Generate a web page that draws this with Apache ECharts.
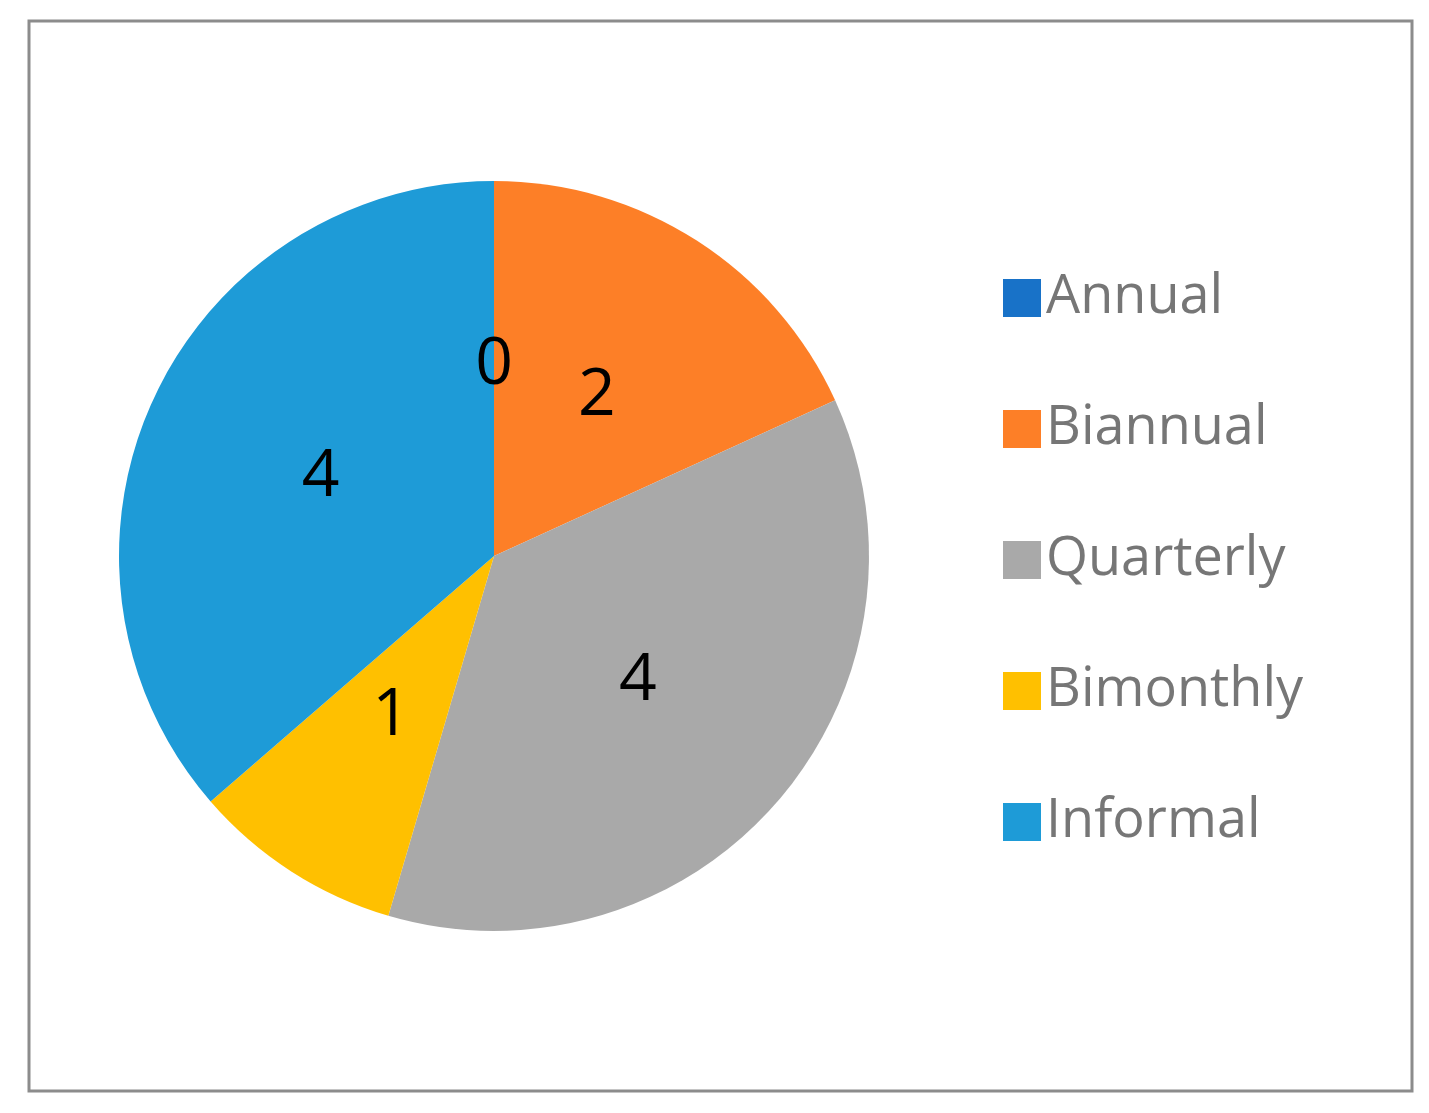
<!DOCTYPE html>
<html><head><meta charset="utf-8">
<script src="https://cdn.jsdelivr.net/npm/echarts@6/dist/echarts.min.js"></script>
<style>html,body{margin:0;padding:0;background:#fff}#c{width:1429px;height:1113px}</style>
</head><body><div id="c"></div>
<script>
const categories = ['Annual','Biannual','Quarterly','Bimonthly','Informal'];
const values = [0,2,4,1,4];
const colors = ['#1872C8','#FD7F27','#A9A9A9','#FFC000','#1E9BD7'];
const chart = echarts.init(document.getElementById('c'));
chart.setOption({
  animation:false,
  graphic:[{type:'rect',shape:{x:29,y:21,width:1383,height:1070},style:{fill:'none',stroke:'#8c8c8c',lineWidth:3}}],
  legend:{orient:'vertical',left:998,top:263,itemWidth:38,itemHeight:38,itemGap:71,icon:'rect',
    textStyle:{fontFamily:'Open Sans',fontSize:54,color:'#767676',lineHeight:60,padding:[0,0,0,0]},
    data:categories},
  series:[{type:'pie',center:[494,556],radius:375,startAngle:90,clockwise:true,
    label:{show:true,position:'inside',formatter:'{c}',fontFamily:'Open Sans',fontSize:66,color:'#000'},
    labelLine:{show:false},
    data:categories.map((n,i)=>({name:n,value:values[i],itemStyle:{color:colors[i]}}))}]
});
</script></body></html>
